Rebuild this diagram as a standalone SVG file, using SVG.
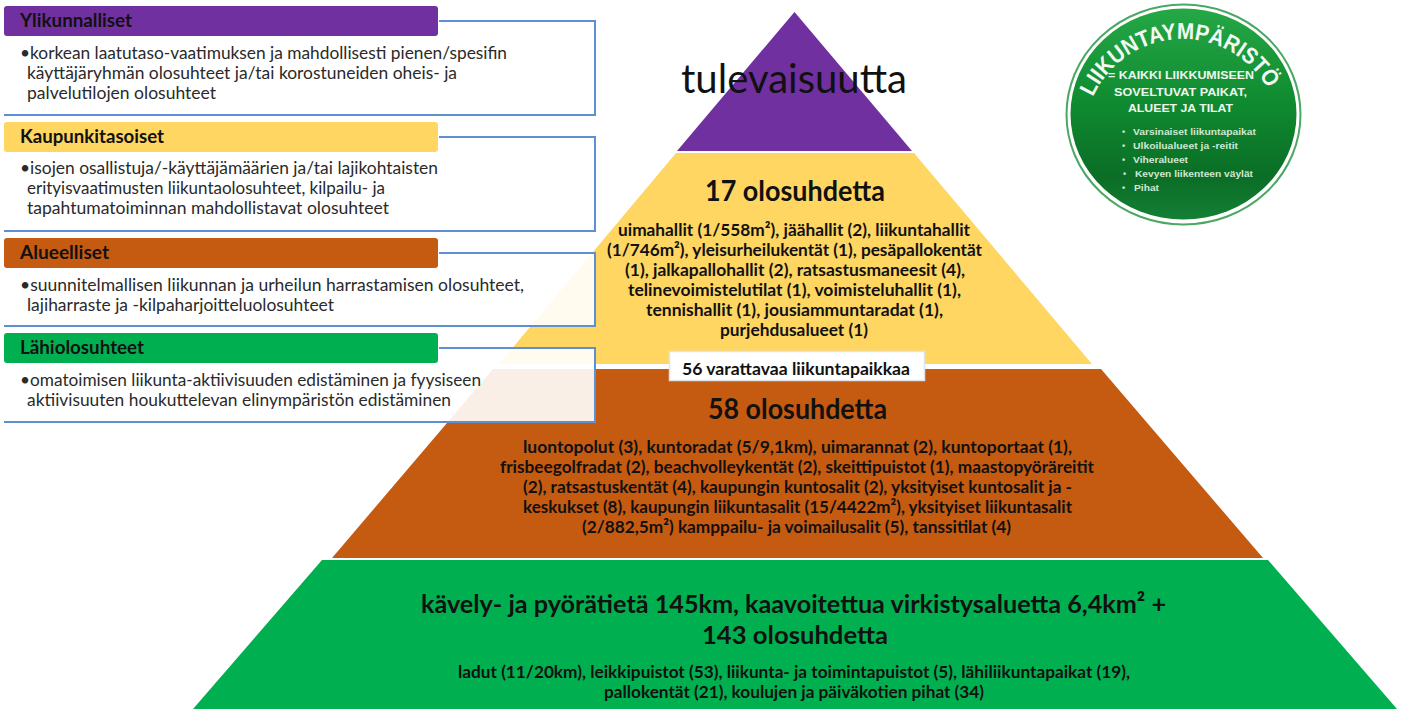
<svg xmlns="http://www.w3.org/2000/svg" width="1406" height="709" viewBox="0 0 1406 709">
<style>
text{font-family:Lato,"Liberation Sans",sans-serif;fill:#111}
.hd{font-size:18.5px;font-weight:700}
.bd{font-size:18px;fill:#2a2a2a}
.t1{font-size:28px;font-weight:700}
.t3{font-size:25.5px;font-weight:700}
.t2{font-size:17.5px;font-weight:700}
.panel{fill:#fff;fill-opacity:.9}
.edge{fill:none;stroke:#5f8fd3;stroke-width:2}
.ctext{font-family:"Liberation Sans",sans-serif;fill:#eef7ee;font-weight:700}
.c1{font-size:10.5px}
.c2{font-size:9px;fill:#cfe8d2}
</style>
<defs>
<linearGradient id="disc" x1="0" y1="0" x2="0" y2="1">
<stop offset="0" stop-color="#25a846"/>
<stop offset=".45" stop-color="#0f8a30"/>
<stop offset=".8" stop-color="#0b6d26"/>
<stop offset="1" stop-color="#148035"/>
</linearGradient>
<path id="arc" d="M1093 97A98 98 0 0 1 1270 93"/>
</defs>
<rect width="1406" height="709" fill="#fff"/>
<g id="level-purple">
<polygon points="794.5,12 912,151 677,151" fill="#7030a0"/>
<text x="681" y="93" font-size="41" textLength="226" lengthAdjust="spacingAndGlyphs">tulevaisuutta</text>
</g>
<g id="level-yellow">
<polygon points="676,153 914,153 1092,364 499,364" fill="#fed661"/>
<text class="t1" x="705" y="201" textLength="180" lengthAdjust="spacingAndGlyphs">17 olosuhdetta</text>
<text class="t2" x="618" y="236" textLength="352" lengthAdjust="spacingAndGlyphs">uimahallit (1/558m²), jäähallit (2), liikuntahallit</text>
<text class="t2" x="607" y="256" textLength="375" lengthAdjust="spacingAndGlyphs">(1/746m²), yleisurheilukentät (1), pesäpallokentät</text>
<text class="t2" x="625" y="276" textLength="340" lengthAdjust="spacingAndGlyphs">(1), jalkapallohallit (2), ratsastusmaneesit (4),</text>
<text class="t2" x="628" y="296" textLength="333" lengthAdjust="spacingAndGlyphs">telinevoimistelutilat (1), voimisteluhallit (1),</text>
<text class="t2" x="646" y="316" textLength="297" lengthAdjust="spacingAndGlyphs">tennishallit (1), jousiammuntaradat (1),</text>
<text class="t2" x="720" y="336" textLength="148" lengthAdjust="spacingAndGlyphs">purjehdusalueet (1)</text>
</g>
<g id="level-brown">
<polygon points="493,369 1101,369 1263,558 332,558" fill="#c55a11"/>
<text class="t1" x="708" y="419" textLength="179" lengthAdjust="spacingAndGlyphs">58 olosuhdetta</text>
<text class="t2" x="523" y="453" textLength="549" lengthAdjust="spacingAndGlyphs">luontopolut (3), kuntoradat (5/9,1km), uimarannat (2), kuntoportaat (1),</text>
<text class="t2" x="500" y="473" textLength="594" lengthAdjust="spacingAndGlyphs">frisbeegolfradat (2), beachvolleykentät (2), skeittipuistot (1), maastopyöräreitit</text>
<text class="t2" x="523" y="493" textLength="549" lengthAdjust="spacingAndGlyphs">(2), ratsastuskentät (4), kaupungin kuntosalit (2), yksityiset kuntosalit ja -</text>
<text class="t2" x="523" y="513" textLength="549" lengthAdjust="spacingAndGlyphs">keskukset (8), kaupungin liikuntasalit (15/4422m²), yksityiset liikuntasalit</text>
<text class="t2" x="582" y="533" textLength="429" lengthAdjust="spacingAndGlyphs">(2/882,5m²) kamppailu- ja voimailusalit (5), tanssitilat (4)</text>
</g>
<g id="level-green">
<polygon points="322,560 1268,560 1397,709 193,709" fill="#00b050"/>
<text class="t3" x="421" y="613" textLength="745" lengthAdjust="spacingAndGlyphs">kävely- ja pyörätietä 145km, kaavoitettua virkistysaluetta 6,4km² +</text>
<text class="t3" x="702" y="644" textLength="186" lengthAdjust="spacingAndGlyphs">143 olosuhdetta</text>
<text class="t2" x="458" y="678" textLength="672" lengthAdjust="spacingAndGlyphs">ladut (11/20km), leikkipuistot (53), liikunta- ja toimintapuistot (5), lähiliikuntapaikat (19),</text>
<text class="t2" x="604" y="698" textLength="380" lengthAdjust="spacingAndGlyphs">pallokentät (21), koulujen ja päiväkotien pihat (34)</text>
</g>
<g id="label-56">
<rect x="669.500" y="351.500" width="255" height="29" fill="#fff" stroke="#dfe3ea" stroke-width="1.500"/>
<text class="t2" x="682" y="375" textLength="228" lengthAdjust="spacingAndGlyphs">56 varattavaa liikuntapaikkaa</text>
</g>
<g id="panel-ylikunnalliset">
<rect class="panel" x="4" y="21" width="591" height="94"/>
<rect x="4" y="6" width="434" height="30" rx="3" fill="#7030a0"/>
<text class="hd" x="20" y="27" textLength="112" lengthAdjust="spacingAndGlyphs">Ylikunnalliset</text>
<text class="bd" x="20" y="59" textLength="487" lengthAdjust="spacingAndGlyphs">•korkean laatutaso-vaatimuksen ja mahdollisesti pienen/spesifin</text>
<text class="bd" x="27" y="79" textLength="430" lengthAdjust="spacingAndGlyphs">käyttäjäryhmän olosuhteet ja/tai korostuneiden oheis- ja</text>
<text class="bd" x="27" y="99" textLength="189" lengthAdjust="spacingAndGlyphs">palvelutilojen olosuhteet</text>
</g>
<g id="panel-kaupunkitasoiset">
<rect class="panel" x="4" y="137" width="591" height="94"/>
<rect x="4" y="122" width="434" height="30" rx="3" fill="#fed661"/>
<text class="hd" x="20" y="143" textLength="144" lengthAdjust="spacingAndGlyphs">Kaupunkitasoiset</text>
<text class="bd" x="20" y="174" textLength="418" lengthAdjust="spacingAndGlyphs">•isojen osallistuja/-käyttäjämäärien ja/tai lajikohtaisten</text>
<text class="bd" x="27" y="194" textLength="358" lengthAdjust="spacingAndGlyphs">erityisvaatimusten liikuntaolosuhteet, kilpailu- ja</text>
<text class="bd" x="27" y="214" textLength="362" lengthAdjust="spacingAndGlyphs">tapahtumatoiminnan mahdollistavat olosuhteet</text>
</g>
<g id="panel-alueelliset">
<rect class="panel" x="4" y="253" width="591" height="73"/>
<rect x="4" y="238" width="434" height="30" rx="3" fill="#c55a11"/>
<text class="hd" x="20" y="259" textLength="89" lengthAdjust="spacingAndGlyphs">Alueelliset</text>
<text class="bd" x="20" y="291" textLength="504" lengthAdjust="spacingAndGlyphs">•suunnitelmallisen liikunnan ja urheilun harrastamisen olosuhteet,</text>
<text class="bd" x="27" y="311" textLength="307" lengthAdjust="spacingAndGlyphs">lajiharraste ja -kilpaharjoitteluolosuhteet</text>
</g>
<g id="panel-lahiolosuhteet">
<rect class="panel" x="4" y="348" width="591" height="74"/>
<rect x="4" y="333" width="434" height="30" rx="3" fill="#00b050"/>
<text class="hd" x="20" y="354" textLength="124" lengthAdjust="spacingAndGlyphs">Lähiolosuhteet</text>
<text class="bd" x="20" y="386" textLength="461" lengthAdjust="spacingAndGlyphs">•omatoimisen liikunta-aktiivisuuden edistäminen ja fyysiseen</text>
<text class="bd" x="27" y="406" textLength="424" lengthAdjust="spacingAndGlyphs">aktiivisuuten houkuttelevan elinympäristön edistäminen</text>
</g>
<g id="connectors">
<polyline class="edge" points="439,21 595,21 595,115 4,115"/>
<polyline class="edge" points="439,137 595,137 595,231 4,231"/>
<polyline class="edge" points="439,253 595,253 595,326 4,326"/>
<polyline class="edge" points="439,348 595,348 595,422 4,422"/>
</g>
<g id="badge">
<ellipse cx="1183.500" cy="114.500" rx="117" ry="110" fill="#fff" stroke="#4aa862" stroke-width="2"/>
<ellipse cx="1183.500" cy="114" rx="113" ry="105.500" fill="url(#disc)"/>
<text class="ctext" font-size="23"><textPath href="#arc" textLength="216" lengthAdjust="spacingAndGlyphs" style="fill:#f2f8f2">LIIKUNTAYMPÄRISTÖ</textPath></text>
<text class="ctext c1" x="1108" y="79" textLength="146" lengthAdjust="spacingAndGlyphs">= KAIKKI LIIKKUMISEEN</text>
<text class="ctext c1" x="1114" y="96" textLength="133" lengthAdjust="spacingAndGlyphs">SOVELTUVAT PAIKAT,</text>
<text class="ctext c1" x="1128" y="112" textLength="105" lengthAdjust="spacingAndGlyphs">ALUEET JA TILAT</text>
<text class="ctext c2" x="1122" y="135">•</text><text class="ctext c2" x="1133" y="135" textLength="123" lengthAdjust="spacingAndGlyphs">Varsinaiset liikuntapaikat</text>
<text class="ctext c2" x="1122" y="149">•</text><text class="ctext c2" x="1133" y="149" textLength="105" lengthAdjust="spacingAndGlyphs">Ulkoilualueet ja -reitit</text>
<text class="ctext c2" x="1122" y="163">•</text><text class="ctext c2" x="1133" y="163" textLength="55" lengthAdjust="spacingAndGlyphs">Viheralueet</text>
<text class="ctext c2" x="1123" y="177">•</text><text class="ctext c2" x="1135" y="177" textLength="118" lengthAdjust="spacingAndGlyphs">Kevyen liikenteen väylät</text>
<text class="ctext c2" x="1122" y="191">•</text><text class="ctext c2" x="1134" y="191" textLength="25" lengthAdjust="spacingAndGlyphs">Pihat</text>
</g>
</svg>
